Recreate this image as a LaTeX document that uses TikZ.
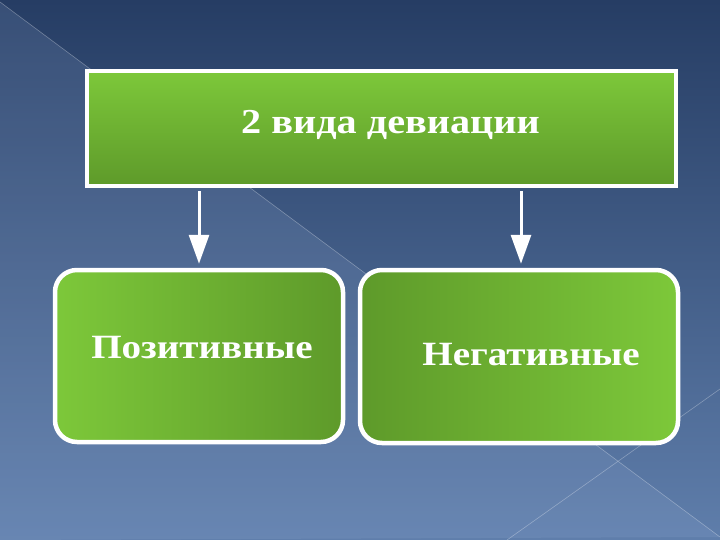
\documentclass[tikz,border=0pt]{standalone}
\usepackage{fontspec}
\setmainfont{Liberation Serif}
\usetikzlibrary{arrows.meta}
\definecolor{bgtop}{HTML}{263D64}
\definecolor{bgbot}{HTML}{5F7EAB}
\definecolor{glight}{HTML}{7DC83A}
\definecolor{gdark}{HTML}{5E9A2A}
\newcommand{\wide}[1]{\scalebox{1.15}[1]{#1}}

\begin{document}
\begin{tikzpicture}[x=1pt,y=-1pt,
  box/.style={draw=white, line width=4.5pt, inner sep=0pt},
  boxtext/.style={text=white, font=\fontsize{34}{40}\selectfont\bfseries},
  arr/.style={draw=white, line width=3pt, -{Triangle[width=20pt,length=29pt]}}]
\useasboundingbox (0,0) rectangle (720,540);
\fill[top color=bgtop, bottom color=bgbot] (0,0) rectangle (720,540);
\fill[color={rgb,255:red,160;green,184;blue,224}, opacity=0.15] (0,2) -- (720,537) -- (0,540) -- cycle;
\draw[white, opacity=0.3, line width=0.6pt] (0,2) -- (720,537) (507,540) -- (720,389);

\node[box, rectangle, minimum width=589pt, minimum height=115pt,
  top color=glight, bottom color=gdark,
  label={[boxtext, font=\fontsize{35}{42}\selectfont\bfseries, xshift=9pt, yshift=4pt]center:\wide{2 вида девиации}}]
  (types) at (381.5,128.5) {};
\node[box, rounded corners=22pt, minimum width=288pt, minimum height=172pt,
  left color=glight, right color=gdark,
  label={[boxtext, xshift=3pt, yshift=8pt]center:\wide{Позитивные}}]
  (pos) at (199,356) {};
\node[box, rounded corners=22pt, minimum width=318pt, minimum height=173pt,
  left color=gdark, right color=glight,
  label={[boxtext, xshift=12pt, yshift=2pt]center:\wide{Негативные}}]
  (neg) at (519,356.5) {};

\draw[arr, shorten <=3pt, shorten >=4pt] (types.south -| pos.north) -- (pos.north);
\draw[arr, shorten <=3pt, shorten >=4pt] (types.south -| neg.north) ++(2,0) -- ([xshift=2pt]neg.north);
\end{tikzpicture}
\end{document}
